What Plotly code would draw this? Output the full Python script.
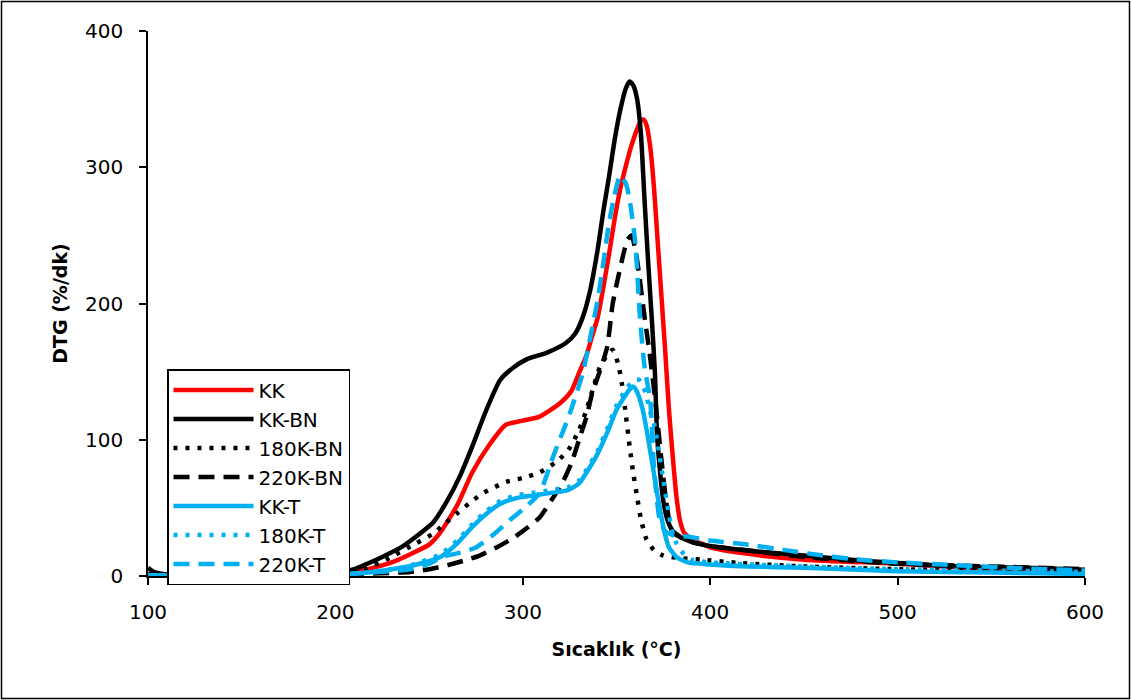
import plotly.graph_objects as go

# ---- data ----
kk_x = [100,120,150,180,200,210,220,230,240,250,256,265,273,282,291,300,309,320,326,330,334,337,340,343,346,349,352,355,358,361,363,364.5,366,368,370,372,374,376,378,380,382,384,386,390,395,400,416,450,500,550,590,600]
kk_y = [1,0.5,0.5,1,2,3,6,10,16,23,32,52,76,96,111,114,117,127,136,149,162,176,190,212,236,262,284,301,316,328,334,335,331,315,285,245,205,165,122,88,58,40,32,27,24,21,17,12,9,5,3,1]

kkbn_x = [100,103,108,120,150,180,200,210,217,225,235,245,252,260,266,273,280,288,295,302,313,323,328,332,336,340,343,346,349,352,355,357,359,361,363,365,367,369,370.5,371.6,373,375,377,380,385,390,400,425,450,475,500,533,569,600]
kkbn_y = [6,3,1.5,1,1,1.5,3,5,9,14,21,31,39,56,72,95,120,144,153,159,164,171,178,190,210,240,268,293,320,342,358,363,360,350,325,275,228,185,149,105,80,55,42,33,28,25,22,18,15,12,9.5,7,6,4.5]

k180bn_x = [100,150,200,215,227,243,252,258,265,272,279,291,300,309,318,324,330,334,338,341,345,348,351,353,355,357,359,361,363,366,370,375,385,395,416,450,500,550,600]
k180bn_y = [1,0.5,2,5,12,24,31,38,46,54,61,69,72,76,84,92,107,122,140,153,162,166,155,140,118,95,75,58,42,27,19,15,13,12,9.5,7,5,4,3]

k220bn_x = [100,150,200,240,250,260,268,277,286,295,302,309,315,321,326,330,334,337,341,345,348,351,354,356,358,360,362,365,368,371,374,377,380,390,400,425,450,500,550,600]
k220bn_y = [1,0.5,1,3,5,8,11,15,21,28,35,43,55,68,83,100,117,134,150,168,200,220,238,247,250,240,222,190,160,125,85,50,32,25,22,18,14,9,7,5]

kkt_x = [100,150,200,220,235,245,256,265,273,280,288,296,305,315,324,330,334,340,345,350,354,357,359,361,364,367,370,373,376,378,382,388,400,420,450,500,550,600]
kkt_y = [0.5,0.5,1,3,6,9,14,24,36,45,53,57,59,61,63,68,76,90,105,122,131,137,139,135,122,100,75,50,30,21,14,10,8.5,7,6,3.5,2.5,1.5]

k180t_x = [100,150,200,220,235,245,256,265,273,280,288,296,305,315,324,330,334,340,345,350,355,358,360,362,364,366,368,370,372,375,378,380,382,386,390,400,450,500,550,600]
k180t_y = [0.5,0.5,1,3,6,10,16,26,38,47,55,59,61,63,65,70,78,92,108,125,137,142,144,144,140,132,120,112,97,70,45,31,24,16,12,10,7,5,4,3]

k220t_x = [100,150,200,240,250,257,266,275,284,293,301,309,316,325,332,336,340,343,346,349,352,355,357,360,362.5,365,368,370,373,376,380,388,400,420,440,460,480,500,530,560,600]
k220t_y = [0.5,0.5,1,5,9,14,17,21,30,41,50,61,87,119,149,175,203,230,259,280,294,288,276,245,190,153,129,80,42,33,30,29,26,23,19,15,12,10,8,6,4]

names = ["KK", "KK-BN", "180K-BN", "220K-BN", "KK-T", "180K-T", "220K-T"]

RED = "#FF0000"
BLACK = "#000000"
CYAN = "#00B0F0"

series = [
    (kk_x, kk_y, RED, "solid"),
    (kkbn_x, kkbn_y, BLACK, "solid"),
    (k180bn_x, k180bn_y, BLACK, "4px,8px"),
    (k220bn_x, k220bn_y, BLACK, "16px,9px"),
    (kkt_x, kkt_y, CYAN, "solid"),
    (k180t_x, k180t_y, CYAN, "4px,8px"),
    (k220t_x, k220t_y, CYAN, "16px,9px"),
]

FONT = "DejaVu Sans"

fig = go.Figure()
for name, (xs, ys, col, dash) in zip(names, series):
    fig.add_trace(go.Scatter(
        x=xs, y=ys, mode="lines", name=name,
        line=dict(color=col, width=4.5, dash=dash, shape="spline", smoothing=0.6),
    ))

W, H = 1131, 700
ml, mr, mt, mb = 148, 46, 31, 124
pw, ph = W - ml - mr, H - mt - mb

fig.update_layout(
    width=W, height=H,
    margin=dict(l=ml, r=mr, t=mt, b=mb, pad=0),
    paper_bgcolor="white", plot_bgcolor="white",
    font=dict(family=FONT, size=20, color="black"),
    showlegend=True,
    legend=dict(
        x=(167 - ml) / pw, y=(H - mb - 369) / ph, xanchor="left", yanchor="top",
        bgcolor="white", bordercolor="black", borderwidth=1.5,
        font=dict(family=FONT, size=20, color="black"),
        itemwidth=80, tracegroupgap=0,
    ),
    xaxis=dict(
        range=[100, 600], dtick=100, tick0=100,
        showline=True, linecolor="black", linewidth=1.5,
        ticks="outside", ticklen=7, tickwidth=1.5, tickcolor="black",
        showgrid=False, zeroline=False,
        ticklabelstandoff=10,
        tickfont=dict(family=FONT, size=20),
        title=dict(text="<b>Sıcaklık (°C)</b>", font=dict(family=FONT, size=19), standoff=20),
    ),
    yaxis=dict(
        range=[0, 400], dtick=100,
        showline=True, linecolor="black", linewidth=1.5,
        ticks="outside", ticklen=7, tickwidth=1.5, tickcolor="black",
        showgrid=False, zeroline=False,
        ticklabelstandoff=12,
        tickfont=dict(family=FONT, size=20),
        title=dict(text="<b>DTG (%/dk)</b>", font=dict(family=FONT, size=19), standoff=12),
    ),
    shapes=[dict(
        type="rect", xref="paper", yref="paper",
        x0=(1.5 - ml) / pw, x1=(W - 1.5 - ml) / pw,
        y0=(H - mb - (H - 1.5)) / ph, y1=(H - mb - 1.5) / ph,
        line=dict(color="black", width=1.5), fillcolor="rgba(0,0,0,0)", layer="below",
    )],
)

fig.write_html("out.html")
